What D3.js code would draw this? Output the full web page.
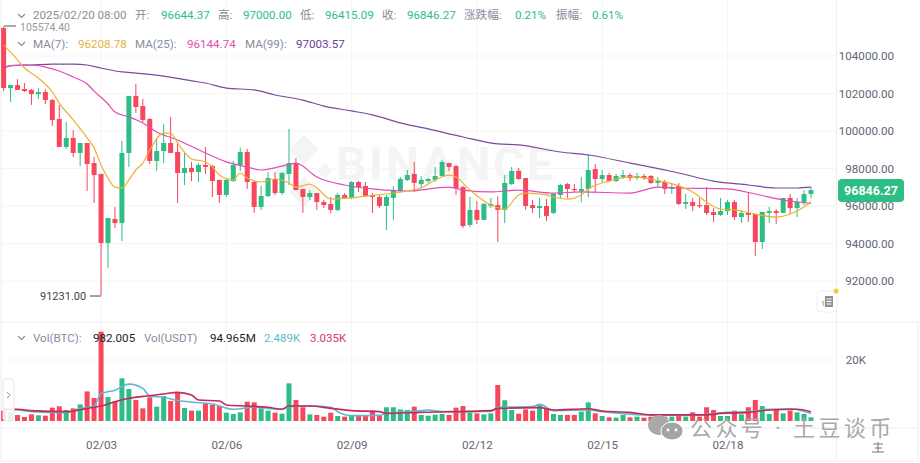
<!DOCTYPE html>
<html><head><meta charset="utf-8">
<script src="https://cdn.jsdelivr.net/npm/d3@7/dist/d3.min.js"></script>
<style>
html,body{margin:0;padding:0;background:#fff;overflow:hidden}
svg{display:block}
text{font-family:Roboto,"Noto Sans CJK SC",sans-serif}
</style></head><body><svg id="c" width="920" height="463"></svg>
<script>
const openP=[105490,102290,102450,102240,102190,101970,102080,101650,100640,99150,99630,98830,99360,98290,97710,94030,95310,95090,98830,101870,101330,100640,98400,98930,99360,98880,97760,98030,97810,98190,98130,97390,96590,97330,98190,98880,97280,95950,96530,97440,96690,97710,98290,96910,96480,96690,96210,96110,95790,96590,96430,97280,97070,96590,96480,96000,96430,96800,97390,97710,97170,97330,97390,97600,98290,98130,97010,94990,95790,95260,96000,96050,95790,97170,97870,97490,96050,95890,96000,95630,96590,97170,96910,96800,96910,97970,97440,97650,97330,97550,97650,97490,97600,97600,97230,97280,96910,97070,96110,96210,96050,96050,95680,95520,95730,96210,95410,95630,95570,94080,95630,95730,95630,96430,95890,96210,96644.37];
const closeP=[102290,102450,102190,102130,101970,102080,101650,100590,99150,99630,98830,99360,98240,97650,94030,95360,95090,98830,101870,101280,100590,98400,98930,99360,98830,97760,98030,97810,98190,98080,97330,96590,97390,98190,98880,97280,95950,96530,97490,96690,97760,98290,96850,96480,96690,96210,96050,95790,96590,96430,97280,97010,96530,96480,96000,96480,96800,97440,97650,97230,97390,97440,97600,98350,98080,96960,94930,95790,95260,96110,96110,95790,97230,97870,97440,96000,95890,96000,95470,96640,97120,96910,96850,96910,97920,97440,97650,97330,97600,97650,97490,97600,97490,97230,97330,96910,97010,96110,96210,96000,96000,95630,95520,95730,96210,95410,95630,95520,94080,95680,95730,95630,96430,95890,96210,96640,96846.27];
const highP=[105574.4,102450,102770,102560,102240,102290,102240,101710,101390,100480,100050,99360,99360,98610,97710,95360,95950,99470,101870,102510,101710,100690,99520,100370,100750,99410,98830,98350,98290,99150,98190,97390,97490,98400,99100,99040,97390,97070,97810,97810,97810,100110,98560,96910,96850,96690,96320,96480,96690,96690,97330,97330,97280,96690,96590,96590,97070,97550,97920,98350,97600,97490,98080,98450,98290,98190,97070,96480,96270,96160,96430,96530,97650,98080,98030,97490,96320,96430,96370,96690,97170,97230,97170,97550,98770,98240,97920,97760,97710,97920,97760,97760,97710,97650,97550,97390,97170,97230,96640,96430,96430,97010,95890,96430,96320,96320,95790,96750,95570,95680,95950,95840,96430,96640,96430,96850,97000];
const lowP=[102130,101550,102190,102080,101390,101710,101440,100270,99150,99040,98610,98130,96800,96160,91231,92700,94830,94130,98080,100960,100480,98240,97870,98290,98830,96160,97120,97330,97280,97710,96480,96160,96480,97280,97870,96910,95630,95790,96480,96590,96590,97120,96850,95630,96320,95790,95890,95630,95730,96370,96370,96750,96480,95630,95890,94720,95260,96750,97330,96750,96960,97230,97280,97550,97870,96590,94830,94880,95040,95260,95890,94080,95090,97120,97390,95790,95630,95360,95200,95570,96430,96430,96750,96210,96480,96690,97280,97280,97280,97440,97330,97390,97390,97170,97010,96640,96640,96050,95840,95730,95890,95520,95150,95470,95520,95260,95090,95150,93330,93710,95090,95040,95630,95570,95410,96050,96415.09];
const volK=[3.4,3.06,1.97,1.31,2.19,1.86,1.75,4.37,4.81,3.6,4.15,5.46,9.7,7.54,29.3,7.87,6.34,13.99,10.5,6.9,4.15,7.76,4.7,8.2,6.56,9.4,4.26,3.4,3.4,5.8,5.25,4.9,2.73,2.3,2.84,6.34,6.1,4.15,3.4,2.73,2.4,12.35,6.9,4.5,2.19,1.97,1.42,2.73,1.64,1.42,1.75,1.64,1.64,3.4,1.64,4.5,4.5,3.8,3.6,4.7,2,1.75,2.08,2.3,2,4.37,4.9,2.73,2.5,2.19,2.5,11.8,6.8,3.6,2.4,3.8,3.4,5.25,4.15,2.3,2,2,2,3.06,6.1,2.5,1.64,1.2,1.1,2,1.2,1.42,1.1,1.42,1.75,1.42,1.42,2.3,1.42,2.84,1.42,4.5,3.6,1.64,1.64,3.4,2.19,4.5,6.9,4.9,2.3,3.6,2.5,3.4,2.84,2.3,1.2];

const ma7Idx=[0,2,3,5,7,8,10,12,13,14,15,16,17,18,19,20,21,23,24,25,27,29,30,31,33,34,35,37,39,41,42,44,45,47,50,52,55,58,60,62,64,65,67,70,72,74,75,78,79,81,83,84,87,90,93,95,97,99,101,103,105,108,111,114,116];
const ma7Val=[104590,103790,103360,102830,102080,101490,100590,99630,99100,98190,97490,97010,96960,97390,97920,98290,98990,99890,99890,99360,98510,98350,98080,97650,97390,97760,97490,97280,97440,97230,97010,97170,96960,96370,96430,96530,96640,96800,96960,97390,97650,97550,96850,96050,95840,96590,96690,96590,96480,96370,96590,96910,97330,97550,97440,97280,97070,96750,96210,95840,95790,95570,95410,95730,96208.78];
const ma25Idx=[0,1,4,6,8,10,12,13,15,16,18,20,22,25,29,32,35,37,40,42,45,49,53,58,64,66,70,74,79,83,90,94,97,104,108,112,116];
const ma25Val=[103360,103490,103520,103410,103200,102880,102510,102130,101440,101010,100750,100430,99950,99520,98830,98350,98080,97920,98130,98290,97550,97120,96910,96800,97010,96850,96750,96850,96690,96750,96690,97010,96960,96910,96640,96320,96144.74];
const ma99Idx=[0,1,4,7,10,12,14,17,19,23,27,29,32,36,39,43,46,50,53,57,61,66,71,74,80,84,90,97,102,107,111,114,116];
const ma99Val=[103360,103490,103520,103570,103570,103520,103360,103150,103090,102930,102670,102560,102290,102190,101920,101650,101330,101070,100860,100430,100110,99680,99310,99260,98880,98720,98290,97760,97330,97120,96960,96960,97003.57];
const volFastIdx=[0,2,4,9,11,13,14,16,18,20,21,23,25,28,30,33,36,38,40,41,44,47,48,50,54,55,60,61,63,70,71,76,77,79,84,86,92,98,100,103,107,110,113,116];
const volFastVal=[3.83,3.6,3.06,2.73,4.15,4.9,9,10.1,12.1,10.7,8.2,7.76,6.7,6,5.6,3.83,4.5,4.15,3.83,4.7,4.9,4.5,3.06,1.75,1.86,2.5,3.4,3.6,3.06,3.17,4.5,4.7,5.46,3.4,3.6,3.06,2,1.86,2,2.73,3.06,3.83,4.04,2.489];
const volSlowIdx=[0,2,4,9,12,14,16,18,21,23,25,27,28,31,32,35,38,40,41,44,47,50,54,55,60,70,71,77,79,84,86,90,93,99,101,103,107,110,114,116];
const volSlowVal=[3.83,3.83,3.4,3.06,4.15,4.9,6.34,7.43,8.3,8.85,9.4,8.5,6.9,6.56,5.25,4.9,4.5,3.83,4.9,4.9,4.15,3.4,3.06,2.5,2.84,3.4,4.15,4.37,3.6,4.04,3.3,2.84,2,2,2,2.5,2.84,3.6,3.83,3.035];

const priceTicks=[104000,102000,100000,98000,96000,94000,92000];
const volTicks=[20];
const dateIdx=[14,32,50,68,86,104];
const dateLabels=["02/03","02/06","02/09","02/12","02/15","02/18"];

const RED="#f6465d",GREEN="#2ebd85",GRAY="#848e9c";
const svg=d3.select("#c");
const x=d3.scaleLinear().domain([0,116]).range([3.6,811]);
const y=d3.scaleLinear().domain([104000,92000]).range([56,281]);
const yv=d3.scaleLinear().domain([0,20]).range([421,360]);
const defs=svg.append("defs");
defs.append("filter").attr("id","soft").append("feGaussianBlur").attr("stdDeviation",0.35);
defs.append("clipPath").attr("id","pc").append("rect").attr("x",1).attr("y",0).attr("width",835).attr("height",463);

// frame and grid
const grid=svg.append("g").attr("stroke","#f5f5f5").attr("fill","none");
priceTicks.forEach(t=>grid.append("line").attr("x1",1).attr("x2",836).attr("y1",y(t)).attr("y2",y(t)));
grid.append("line").attr("x1",1).attr("x2",836).attr("y1",yv(20)).attr("y2",yv(20));
dateIdx.forEach(i=>grid.append("line").attr("x1",x(i)).attr("x2",x(i)).attr("y1",0).attr("y2",428));
const frame=svg.append("g").attr("stroke","#eeeeee").attr("fill","none");
frame.append("line").attr("x1",1).attr("x2",918).attr("y1",322).attr("y2",322);
frame.append("line").attr("x1",1).attr("x2",918).attr("y1",428).attr("y2",428);
frame.append("line").attr("x1",836.5).attr("x2",836.5).attr("y1",0).attr("y2",461);
frame.append("line").attr("x1",1).attr("x2",1).attr("y1",0).attr("y2",461);
frame.append("line").attr("x1",1).attr("x2",918).attr("y1",461).attr("y2",461);
frame.append("line").attr("x1",918).attr("x2",918).attr("y1",322).attr("y2",461);

// Binance watermark
const wm=svg.append("g").attr("fill","#f4f4f4");
wm.append("text").attr("x",336).attr("y",180).attr("font-size",47).attr("font-weight",700).attr("letter-spacing",3).text("BINANCE");
[[304,150,15],[283,171,8],[325,171,8],[304,192,15]].forEach(d=>wm.append("rect").attr("x",d[0]-d[2]/1.4).attr("y",d[1]-d[2]/1.4).attr("width",d[2]*1.41).attr("height",d[2]*1.41).attr("transform",`rotate(45 ${d[0]} ${d[1]})`));

const plot=svg.append("g").attr("clip-path","url(#pc)").attr("filter","url(#soft)");
const idx=d3.range(openP.length);
const colr=i=>closeP[i]>=openP[i]?GREEN:RED;
plot.append("g").selectAll("line").data(idx).join("line")
 .attr("x1",i=>x(i)).attr("x2",i=>x(i)).attr("y1",i=>y(highP[i])).attr("y2",i=>y(lowP[i]))
 .attr("stroke",colr).attr("stroke-width",1);
plot.append("g").selectAll("rect").data(idx).join("rect")
 .attr("x",i=>x(i)-2.5).attr("width",5)
 .attr("y",i=>y(Math.max(openP[i],closeP[i])))
 .attr("height",i=>Math.max(1.2,Math.abs(y(openP[i])-y(closeP[i]))))
 .attr("fill",colr);

const lineOf=(sx,sy)=>d3.line().x(d=>sx(d[0])).y(d=>sy(d[1])).curve(d3.curveMonotoneX);
const drawMa=(a,b,c,w,sy)=>plot.append("path").attr("d",lineOf(x,sy)(a.map((v,k)=>[v,b[k]]))).attr("fill","none").attr("stroke",c).attr("stroke-width",w);
drawMa(ma99Idx,ma99Val,"#7a4a9f",1.2,y);
drawMa(ma25Idx,ma25Val,"#e34db3",1.2,y);
drawMa(ma7Idx,ma7Val,"#efb133",1.2,y);

// volume bars
plot.append("g").selectAll("rect").data(idx).join("rect")
 .attr("x",i=>x(i)-2.5).attr("width",5)
 .attr("y",i=>yv(volK[i])).attr("height",i=>yv(0)-yv(volK[i])).attr("fill",colr);
drawMa(volFastIdx,volFastVal,"#62b9cf",1.6,yv);
drawMa(volSlowIdx,volSlowVal,"#c42a5c",1.6,yv);

// axes
const axP=svg.append("g").attr("transform","translate(894,0)")
 .call(d3.axisLeft(y).tickValues(priceTicks).tickSize(0).tickPadding(0).tickFormat(d3.format(".2f")));
const axV=svg.append("g").attr("transform","translate(866,0)")
 .call(d3.axisLeft(yv).tickValues(volTicks).tickSize(0).tickPadding(0).tickFormat(d=>d+"K"));
const axD=svg.append("g").attr("transform","translate(0,441)")
 .call(d3.axisBottom(x).tickValues(dateIdx).tickSize(0).tickPadding(0).tickFormat(d=>dateLabels[dateIdx.indexOf(d)]));
[axP,axV,axD].forEach(a=>{a.select(".domain").remove();a.selectAll("text").attr("fill","#5e6673").attr("font-size",11.6);});

// last price tag
svg.append("rect").attr("x",838).attr("y",179).attr("width",66).attr("height",23).attr("rx",4).attr("fill",GREEN);
svg.append("text").attr("x",871).attr("y",195).attr("text-anchor","middle").attr("fill","#fff").attr("font-size",12.5).attr("font-weight",700).text("96846.27");

// hi/lo marks
svg.append("line").attr("x1",4).attr("x2",16).attr("y1",26).attr("y2",26).attr("stroke","#555");
svg.append("text").attr("x",20).attr("y",31).attr("font-size",10.5).attr("fill","#9a9a9a").text("105574.40");
svg.append("line").attr("x1",90).attr("x2",101).attr("y1",296).attr("y2",296).attr("stroke","#444");
svg.append("text").attr("x",40).attr("y",300).attr("font-size",11).attr("fill","#444").text("91231.00");

// headers
const put=(a,yy,fs)=>a.forEach(d=>svg.append("text").attr("x",d[0]).attr("y",yy).attr("font-size",fs).attr("fill",d[2]).text(d[1]));
put([[33,"2025/02/20 08:00",GRAY],[135,"开:",GRAY],[161,"96644.37",GREEN],[218,"高:",GRAY],[243,"97000.00",GREEN],[300,"低:",GRAY],[325,"96415.09",GREEN],[382,"收:",GRAY],[407,"96846.27",GREEN],[464,"涨跌幅:",GRAY],[515,"0.21%",GREEN],[556,"振幅:",GRAY],[592,"0.61%",GREEN]],19,11.6);
put([[33,"MA(7):",GRAY],[78,"96208.78","#e3b341"],[135,"MA(25):",GRAY],[187,"96144.74","#e34db3"],[245,"MA(99):",GRAY],[296,"97003.57","#6c3d9c"]],48,11.6);
put([[33,"Vol(BTC):",GRAY],[93,"982.005","#222"],[144,"Vol(USDT)",GRAY],[210,"94.965M","#222"],[264,"2.489K","#62b9cf"],[310,"3.035K","#d1406a"]],342,11.6);
[16,44,338].forEach(c=>svg.append("path").attr("d",`M18 ${c-2}l3.5 3.5l3.5-3.5`).attr("fill","none").attr("stroke","#848e9c").attr("stroke-width",1.2));

// side tab
svg.append("rect").attr("x",3).attr("y",379).attr("width",11).attr("height",42).attr("rx",3).attr("fill","#fff").attr("fill-opacity",.85).attr("stroke","#e8e8e8");
svg.append("path").attr("d","M7 392l3 3l-3 3").attr("fill","none").attr("stroke","#999");

// book icon
svg.append("rect").attr("x",817).attr("y",291).attr("width",20).attr("height",21).attr("rx",4).attr("fill","#fff").attr("stroke","#eeeeee");
svg.append("rect").attr("x",825).attr("y",296).attr("width",8).attr("height",11).attr("fill","#8b8f96");
svg.append("path").attr("d","M826.5 299h5M826.5 301.5h5M826.5 304h5").attr("stroke","#fff");
svg.append("text").attr("x",821).attr("y",306).attr("font-size",8).attr("font-weight",700).attr("fill","#e3b341").text("1");
svg.append("circle").attr("cx",836).attr("cy",291).attr("r",2.5).attr("fill","#f5c542");

// WeChat watermark
svg.append("ellipse").attr("cx",659).attr("cy",425).attr("rx",11).attr("ry",10).attr("fill","#a9a9a9");
svg.append("ellipse").attr("cx",672).attr("cy",431).attr("rx",11).attr("ry",9).attr("fill","#a3a3a3").attr("stroke","#fff");
[[668,430],[676,430]].forEach(p=>svg.append("circle").attr("cx",p[0]).attr("cy",p[1]).attr("r",1.4).attr("fill","#fff"));
svg.append("text").attr("x",690).attr("y",436).attr("font-size",22).attr("fill","#a9a9a9").attr("letter-spacing",3.4).text("公众号 · 土豆谈币");
svg.append("path").attr("d","M873 444h10M875 448h7M872 452h12M878 442v10").attr("stroke","#777").attr("fill","none");
</script></body></html>
